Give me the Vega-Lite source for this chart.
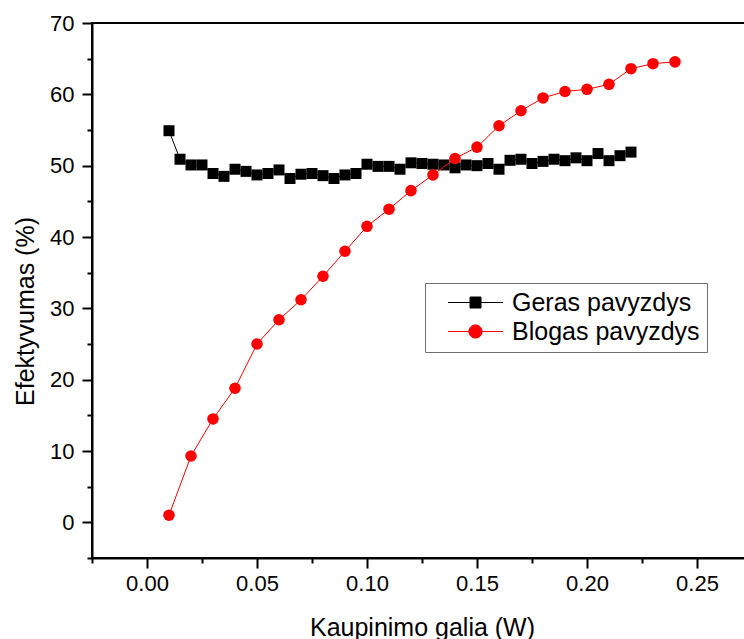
{
  "$schema": "https://vega.github.io/schema/vega-lite/v6.json",
  "width": 660,
  "height": 535,
  "autosize": "none",
  "padding": {"left": 92, "top": 23, "right": 0, "bottom": 81},
  "background": "white",
  "config": {
    "font": "Liberation Sans",
    "view": {"stroke": "black", "strokeWidth": 2},
    "axis": {"grid": false, "domainColor": "black", "tickColor": "black", "labelColor": "black", "titleColor": "black", "domainWidth": 2, "tickWidth": 2, "labelFont": "Liberation Sans", "titleFont": "Liberation Sans", "titleFontWeight": "normal"},
    "legend": {"orient": "none", "legendX": 333, "legendY": 260, "padding": 7, "strokeColor": "#707070", "fillColor": "white", "labelFontSize": 25, "labelLimit": 400, "labelFont": "Liberation Sans", "labelColor": "black", "symbolSize": 484, "symbolOffset": 31, "labelOffset": 24, "rowPadding": 3, "symbolStrokeWidth": 1, "symbolOpacity": 1, "title": null}
  },
  "data": {"values": [
    {"x": 0.010, "y": 54.9, "s": "Geras pavyzdys"},
    {"x": 0.015, "y": 50.9, "s": "Geras pavyzdys"},
    {"x": 0.020, "y": 50.1, "s": "Geras pavyzdys"},
    {"x": 0.025, "y": 50.1, "s": "Geras pavyzdys"},
    {"x": 0.030, "y": 48.9, "s": "Geras pavyzdys"},
    {"x": 0.035, "y": 48.5, "s": "Geras pavyzdys"},
    {"x": 0.040, "y": 49.5, "s": "Geras pavyzdys"},
    {"x": 0.045, "y": 49.2, "s": "Geras pavyzdys"},
    {"x": 0.050, "y": 48.7, "s": "Geras pavyzdys"},
    {"x": 0.055, "y": 48.9, "s": "Geras pavyzdys"},
    {"x": 0.060, "y": 49.4, "s": "Geras pavyzdys"},
    {"x": 0.065, "y": 48.2, "s": "Geras pavyzdys"},
    {"x": 0.070, "y": 48.8, "s": "Geras pavyzdys"},
    {"x": 0.075, "y": 48.9, "s": "Geras pavyzdys"},
    {"x": 0.080, "y": 48.6, "s": "Geras pavyzdys"},
    {"x": 0.085, "y": 48.2, "s": "Geras pavyzdys"},
    {"x": 0.090, "y": 48.7, "s": "Geras pavyzdys"},
    {"x": 0.095, "y": 48.9, "s": "Geras pavyzdys"},
    {"x": 0.100, "y": 50.2, "s": "Geras pavyzdys"},
    {"x": 0.105, "y": 49.9, "s": "Geras pavyzdys"},
    {"x": 0.110, "y": 49.9, "s": "Geras pavyzdys"},
    {"x": 0.115, "y": 49.5, "s": "Geras pavyzdys"},
    {"x": 0.120, "y": 50.4, "s": "Geras pavyzdys"},
    {"x": 0.125, "y": 50.3, "s": "Geras pavyzdys"},
    {"x": 0.130, "y": 50.2, "s": "Geras pavyzdys"},
    {"x": 0.135, "y": 50.1, "s": "Geras pavyzdys"},
    {"x": 0.140, "y": 49.7, "s": "Geras pavyzdys"},
    {"x": 0.145, "y": 50.1, "s": "Geras pavyzdys"},
    {"x": 0.150, "y": 50.0, "s": "Geras pavyzdys"},
    {"x": 0.155, "y": 50.3, "s": "Geras pavyzdys"},
    {"x": 0.160, "y": 49.5, "s": "Geras pavyzdys"},
    {"x": 0.165, "y": 50.75, "s": "Geras pavyzdys"},
    {"x": 0.170, "y": 50.9, "s": "Geras pavyzdys"},
    {"x": 0.175, "y": 50.3, "s": "Geras pavyzdys"},
    {"x": 0.180, "y": 50.6, "s": "Geras pavyzdys"},
    {"x": 0.185, "y": 50.9, "s": "Geras pavyzdys"},
    {"x": 0.190, "y": 50.7, "s": "Geras pavyzdys"},
    {"x": 0.195, "y": 51.1, "s": "Geras pavyzdys"},
    {"x": 0.200, "y": 50.7, "s": "Geras pavyzdys"},
    {"x": 0.205, "y": 51.7, "s": "Geras pavyzdys"},
    {"x": 0.210, "y": 50.7, "s": "Geras pavyzdys"},
    {"x": 0.215, "y": 51.4, "s": "Geras pavyzdys"},
    {"x": 0.220, "y": 51.9, "s": "Geras pavyzdys"},
    {"x": 0.01, "y": 1.0, "s": "Blogas pavyzdys"},
    {"x": 0.02, "y": 9.3, "s": "Blogas pavyzdys"},
    {"x": 0.03, "y": 14.5, "s": "Blogas pavyzdys"},
    {"x": 0.04, "y": 18.8, "s": "Blogas pavyzdys"},
    {"x": 0.05, "y": 25.0, "s": "Blogas pavyzdys"},
    {"x": 0.06, "y": 28.4, "s": "Blogas pavyzdys"},
    {"x": 0.07, "y": 31.2, "s": "Blogas pavyzdys"},
    {"x": 0.08, "y": 34.5, "s": "Blogas pavyzdys"},
    {"x": 0.09, "y": 38.0, "s": "Blogas pavyzdys"},
    {"x": 0.10, "y": 41.5, "s": "Blogas pavyzdys"},
    {"x": 0.11, "y": 43.9, "s": "Blogas pavyzdys"},
    {"x": 0.12, "y": 46.5, "s": "Blogas pavyzdys"},
    {"x": 0.13, "y": 48.7, "s": "Blogas pavyzdys"},
    {"x": 0.14, "y": 51.0, "s": "Blogas pavyzdys"},
    {"x": 0.15, "y": 52.6, "s": "Blogas pavyzdys"},
    {"x": 0.16, "y": 55.6, "s": "Blogas pavyzdys"},
    {"x": 0.17, "y": 57.7, "s": "Blogas pavyzdys"},
    {"x": 0.18, "y": 59.5, "s": "Blogas pavyzdys"},
    {"x": 0.19, "y": 60.4, "s": "Blogas pavyzdys"},
    {"x": 0.20, "y": 60.7, "s": "Blogas pavyzdys"},
    {"x": 0.21, "y": 61.4, "s": "Blogas pavyzdys"},
    {"x": 0.22, "y": 63.6, "s": "Blogas pavyzdys"},
    {"x": 0.23, "y": 64.3, "s": "Blogas pavyzdys"},
    {"x": 0.24, "y": 64.55, "s": "Blogas pavyzdys"}
  ]},
  "resolve": {"axis": {"x": "independent", "y": "independent"}},
  "layer": [
    {
      "transform": [{"filter": "datum.s === 'Geras pavyzdys'"}],
      "mark": {"type": "line", "strokeWidth": 1, "clip": true},
      "encoding": {
        "x": {"field": "x", "type": "quantitative", "scale": {"domain": [-0.025, 0.275], "nice": false, "zero": false},
          "axis": {"orient": "bottom", "values": [0, 0.05, 0.1, 0.15, 0.2, 0.25], "format": ".2f", "tickSize": 10, "labelFontSize": 22, "labelPadding": 5, "title": "Kaupinimo galia (W)", "titleFontSize": 25, "titleY": 69, "titleBaseline": "middle"}},
        "y": {"field": "y", "type": "quantitative", "scale": {"domain": [-5, 70], "nice": false, "zero": false},
          "axis": {"orient": "left", "values": [0, 10, 20, 30, 40, 50, 60, 70], "tickSize": 10, "labelFontSize": 22, "labelPadding": 8, "title": "Efektyvumas (%)", "titleFontSize": 25, "titleAngle": 270, "titleX": -67, "titleY": 288, "titleBaseline": "middle", "titleAlign": "center"}},
        "color": {"field": "s", "type": "nominal", "scale": {"domain": ["Geras pavyzdys", "Blogas pavyzdys"], "range": ["black", "#ff0000"]},
          "legend": {"symbolType": {"expr": "datum.value === 'Geras pavyzdys' ? 'M-2.5,0H2.5M-0.5,-0.5H0.5V0.5H-0.5Z' : 'M-2.5,0H2.5M-0.6,0A0.6,0.6 0 1,1 0.6,0A0.6,0.6 0 1,1 -0.6,0Z'"}}}
      }
    },
    {
      "transform": [{"filter": "datum.s === 'Geras pavyzdys'"}],
      "mark": {"type": "point", "shape": "square", "filled": true, "opacity": 1, "size": 121, "clip": true},
      "encoding": {
        "x": {"field": "x", "type": "quantitative", "axis": {"orient": "bottom", "values": [-0.025, 0.025, 0.075, 0.125, 0.175, 0.225, 0.275], "tickSize": 5, "labels": false, "domain": false, "title": null}},
        "y": {"field": "y", "type": "quantitative", "axis": {"orient": "left", "values": [-5, 5, 15, 25, 35, 45, 55, 65], "tickSize": 5, "labels": false, "domain": false, "title": null}},
        "color": {"field": "s", "type": "nominal"}
      }
    },
    {
      "transform": [{"filter": "datum.s === 'Blogas pavyzdys'"}],
      "mark": {"type": "line", "strokeWidth": 1, "clip": true},
      "encoding": {
        "x": {"field": "x", "type": "quantitative", "axis": null},
        "y": {"field": "y", "type": "quantitative", "axis": null},
        "color": {"field": "s", "type": "nominal"}
      }
    },
    {
      "transform": [{"filter": "datum.s === 'Blogas pavyzdys'"}],
      "mark": {"type": "point", "shape": "circle", "filled": true, "opacity": 1, "size": 133, "clip": true},
      "encoding": {
        "x": {"field": "x", "type": "quantitative", "axis": null},
        "y": {"field": "y", "type": "quantitative", "axis": null},
        "color": {"field": "s", "type": "nominal"}
      }
    }
  ]
}
